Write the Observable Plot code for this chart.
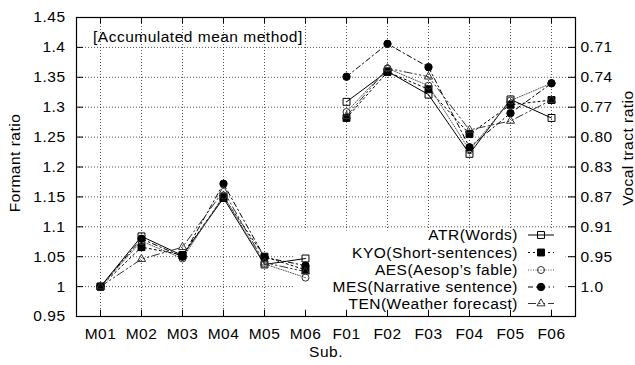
<!DOCTYPE html>
<html>
<head>
<meta charset="utf-8">
<script src="https://cdn.jsdelivr.net/npm/d3@7"></script>
<script src="https://cdn.jsdelivr.net/npm/@observablehq/plot@0.6"></script>
<style>
  html, body { margin: 0; padding: 0; background: #fff; }
</style>
</head>
<body>
<div id="chart"></div>
<script>
// ---- data ----
const categories = ["M01","M02","M03","M04","M05","M06","F01","F02","F03","F04","F05","F06"];
const groups     = ["M","M","M","M","M","M","F","F","F","F","F","F"];
const seriesNames = ["ATR(Words)","KYO(Short-sentences)","AES(Aesop’s fable)","MES(Narrative sentence)","TEN(Weather forecast)"];
const ATR = [1.000, 1.084, 1.052, 1.148, 1.037, 1.047, 1.309, 1.360, 1.321, 1.222, 1.313, 1.282];
const KYO = [1.000, 1.066, 1.053, 1.150, 1.050, 1.028, 1.282, 1.359, 1.330, 1.255, 1.304, 1.312];
const AES = [1.000, 1.076, 1.047, 1.152, 1.038, 1.015, 1.292, 1.365, 1.336, 1.228, 1.311, 1.340];
const MES = [1.000, 1.080, 1.050, 1.172, 1.049, 1.035, 1.351, 1.406, 1.367, 1.233, 1.290, 1.340];
const TEN = [1.000, 1.046, 1.066, 1.160, 1.040, 1.025, 1.285, 1.365, 1.351, 1.262, 1.277, 1.312];
const leftTicks  = [0.95, 1.0, 1.05, 1.1, 1.15, 1.2, 1.25, 1.3, 1.35, 1.4, 1.45];
const leftLabels = ["0.95","1","1.05","1.1","1.15","1.2","1.25","1.3","1.35","1.4","1.45"];
const rightTicks  = [1.0, 1.05, 1.1, 1.15, 1.2, 1.25, 1.3, 1.35, 1.4];
const rightLabels = ["1.0","0.95","0.91","0.87","0.83","0.80","0.77","0.74","0.71"];
const gridTicks = [1.0, 1.05, 1.1, 1.15, 1.2, 1.25, 1.3, 1.35, 1.4];
const titleText = "[Accumulated mean method]";
const xLabel = "Sub.";
const yLabel = "Formant ratio";
const y2Label = "Vocal tract ratio";

// ---- styles (kept apart from data) ----
const styles = [
  {symbol: "square",   fill: "none", stroke: "#000", dash: null,               lineStroke: "#000", r: 3.9},
  {symbol: "square",   fill: "#000", stroke: "#000", dash: "2,3",              lineStroke: "#000", r: 3.9},
  {symbol: "circle",   fill: "none", stroke: "#333", dash: "1,1.5",            lineStroke: "#555", r: 3.5},
  {symbol: "circle",   fill: "#000", stroke: "#000", dash: "5,3,1.5,3",        lineStroke: "#000", r: 3.7},
  {symbol: "triangle", fill: "none", stroke: "#333", dash: "8,3,1.5,3,1.5,3",  lineStroke: "#333", r: 3.0}
];
const seriesValues = [ATR, KYO, AES, MES, TEN];

const rows = [];
seriesNames.forEach((s, si) => {
  categories.forEach((c, i) => {
    rows.push({series: s, si, cat: c, value: seriesValues[si][i], grp: groups[i]});
  });
});

const leftMap = new Map(leftTicks.map((t, i) => [t, leftLabels[i]]));
const rightMap = new Map(rightTicks.map((t, i) => [t, rightLabels[i]]));

const FONT = "'Liberation Sans', Arial, Helvetica, sans-serif";
const FS = 15.5;
const W = 635, H = 365, mT = 17, mB = 49, mL = 76, mR = 60;
const gridStyle = {stroke: "#000", strokeWidth: 0.8, strokeDasharray: "1,2", strokeOpacity: 0.85};

const lineMarks = [];
const dotMarks = [];
styles.forEach((st, si) => {
  const data = rows.filter(d => d.si === si);
  lineMarks.push(Plot.line(data, {
    x: "cat", y: "value", z: "grp",
    stroke: st.lineStroke, strokeWidth: 1, strokeDasharray: st.dash || undefined
  }));
  dotMarks.push(Plot.dot(data, {
    x: "cat", y: "value", symbol: () => st.symbol, r: st.r,
    fill: st.fill, stroke: st.stroke, strokeWidth: 1
  }));
});

const plot = Plot.plot({
  width: W, height: H,
  marginTop: mT, marginBottom: mB, marginLeft: mL, marginRight: mR,
  style: {fontSize: FS + "px", fontFamily: FONT, letterSpacing: "0.5px", background: "#fff", color: "#000"},
  x: {type: "point", domain: categories, padding: 0.5, axis: null},
  y: {domain: [0.95, 1.45], axis: null, label: null},
  symbol: {type: "identity"},
  marks: [
    Plot.ruleY(gridTicks, {y: d => d, ...gridStyle}),
    Plot.ruleX(categories, {x: d => d, ...gridStyle}),
    // opaque key box
    Plot.frame({fill: "#fff", stroke: null, insetLeft: 217, insetRight: 10, insetTop: 213, insetBottom: 5}),
    // inward ticks
    Plot.ruleX(categories, {x: d => d, y1: 0.95, y2: 0.9605, stroke: "#000"}),
    Plot.ruleX(categories, {x: d => d, y1: 1.4395, y2: 1.45, stroke: "#000"}),
    Plot.ruleY(leftTicks, {y: d => d, insetRight: W - mL - mR - 7, stroke: "#000"}),
    Plot.ruleY(rightTicks, {y: d => d, insetLeft: W - mL - mR - 7, stroke: "#000"}),
    Plot.axisY({ticks: leftTicks, anchor: "left", tickSize: 0, tickPadding: 11, tickFormat: d => leftMap.get(d), fontSize: FS, label: null}),
    Plot.axisY({ticks: rightTicks, anchor: "right", tickSize: 0, tickPadding: 5, tickFormat: d => rightMap.get(d), fontSize: FS, label: null}),
    Plot.axisX({anchor: "bottom", tickSize: 0, tickPadding: 11, fontSize: FS, label: null}),
    ...lineMarks,
    ...dotMarks,
    Plot.frame({stroke: "#000", strokeWidth: 1.2})
  ]
});

// ---- non-data text: title, axis titles, legend ----
const svg = d3.select(plot);
const g = svg.append("g").attr("font-size", FS).attr("font-family", FONT).attr("fill", "#000");
g.append("text").attr("x", 93).attr("y", 42).attr("text-anchor", "start").text(titleText);
g.append("text").attr("x", 326).attr("y", 352).attr("dy", "0.35em").attr("text-anchor", "middle").text(xLabel);
g.append("text").attr("transform", "translate(15,163) rotate(-90)").attr("dy", "0.35em").attr("text-anchor", "middle").text(yLabel);
g.append("text").attr("transform", "translate(628,148) rotate(-90)").attr("dy", "0.35em").attr("text-anchor", "middle").text(y2Label);

const legY = [235, 252.5, 270, 287, 303.5];
const symGen = {square: d3.symbolSquare, circle: d3.symbolCircle, triangle: d3.symbolTriangle};
seriesNames.forEach((name, i) => {
  const st = styles[i];
  const yy = legY[i];
  g.append("text").attr("x", 518).attr("y", yy).attr("dy", "0.35em").attr("text-anchor", "end").text(name);
  g.append("line").attr("x1", 528).attr("x2", 554).attr("y1", yy).attr("y2", yy)
    .attr("stroke", st.lineStroke).attr("stroke-width", 1)
    .attr("stroke-dasharray", st.dash || null);
  g.append("path").attr("transform", `translate(541,${yy})`)
    .attr("d", d3.symbol(symGen[st.symbol], Math.PI * st.r * st.r)())
    .attr("fill", st.fill).attr("stroke", st.stroke).attr("stroke-width", 1);
});

document.getElementById("chart").appendChild(plot);
</script>
</body>
</html>
